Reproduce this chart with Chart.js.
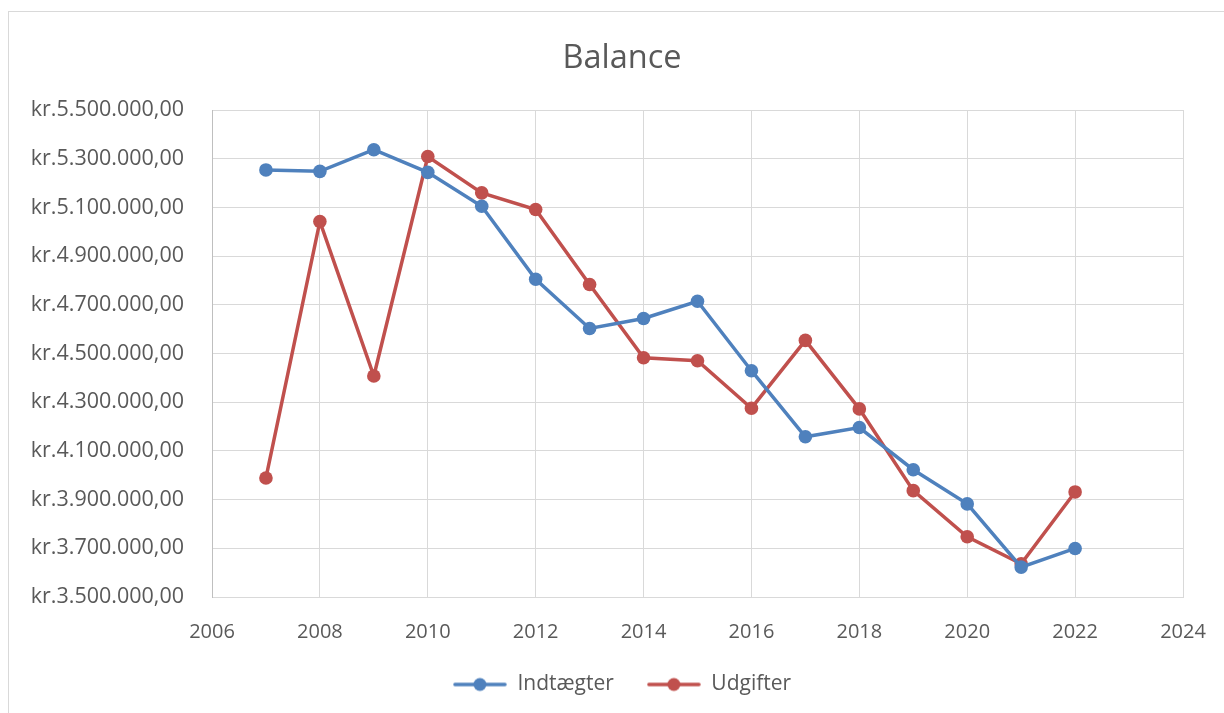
<!DOCTYPE html>
<html>
<head>
<meta charset="utf-8">
<script src="https://cdn.jsdelivr.net/npm/chart.js@4"></script>
<style>
  html, body { margin: 0; padding: 0; background: #fff; }
  #wrap { position: relative; width: 1224px; height: 713px; }
</style>
</head>
<body>
<div id="wrap"><canvas id="chart" width="1224" height="713"></canvas></div>
<script>
// Data
const years = [2007, 2008, 2009, 2010, 2011, 2012, 2013, 2014, 2015, 2016, 2017, 2018, 2019, 2020, 2021, 2022];
const indtaegter = [5253900, 5248100, 5337000, 5244000, 5104800, 4804800, 4602900, 4643900, 4714700, 4429300, 4157900, 4196000, 4022800, 3882400, 3622800, 3699400];
const udgifter = [3988800, 5042200, 4407600, 5309100, 5159700, 5091300, 4783100, 4482600, 4470300, 4275400, 4553800, 4272500, 3936800, 3747300, 3636700, 3931500];
const seriesNames = ['Indtægter', 'Udgifter'];
const seriesColors = ['#4f81bd', '#c0504d'];

const textColor = '#595959';
const gridColor = '#d9d9d9';

Chart.defaults.font.family = "'Open Sans', sans-serif";
Chart.defaults.color = textColor;

// kr.5.500.000,00
function formatKr(v) {
    const s = Math.round(v).toString().replace(/\B(?=(\d{3})+(?!\d))/g, '.');
    return 'kr.' + s + ',00';
}

// legend marker: line with a dot in the middle
function makeIcon(color) {
    const c = document.createElement('canvas');
    c.width = 54;
    c.height = 16;
    const g = c.getContext('2d');
    g.strokeStyle = color;
    g.lineWidth = 3.5;
    g.lineCap = 'round';
    g.beginPath();
    g.moveTo(2, 8);
    g.lineTo(52, 8);
    g.stroke();
    g.fillStyle = color;
    g.beginPath();
    g.arc(27, 8, 6.5, 0, Math.PI * 2);
    g.fill();
    return c;
}
const icons = seriesColors.map(makeIcon);

const outerBorder = {
    id: 'outerBorder',
    beforeDraw(chart) {
        const ctx = chart.ctx;
        ctx.save();
        ctx.strokeStyle = gridColor;
        ctx.lineWidth = 1;
        ctx.strokeRect(8.5, 11.5, 1300, 800);
        ctx.restore();
    }
};

function series(values) {
    return years.map((y, i) => ({ x: y, y: values[i] }));
}

new Chart(document.getElementById('chart'), {
    type: 'line',
    data: {
        datasets: [indtaegter, udgifter].map((vals, i) => ({
            label: seriesNames[i],
            data: series(vals),
            borderColor: seriesColors[i],
            backgroundColor: seriesColors[i],
            borderWidth: 3.5,
            pointRadius: 6.8,
            pointHoverRadius: 6.8,
            pointBorderWidth: 0,
            tension: 0
        }))
    },
    options: {
        responsive: false,
        animation: false,
        layout: { padding: { left: 20, right: 0, top: 0, bottom: 8 } },
        plugins: {
            title: {
                display: true,
                text: 'Balance',
                color: textColor,
                font: { size: 32.5, weight: 'normal' },
                padding: { top: 39, bottom: 32 }
            },
            legend: {
                position: 'bottom',
                labels: {
                    usePointStyle: true,
                    pointStyleWidth: 54,
                    padding: 33,
                    color: textColor,
                    font: { size: 21 },
                    generateLabels(chart) {
                        const items = Chart.defaults.plugins.legend.labels.generateLabels(chart);
                        items.forEach((it, i) => { it.pointStyle = icons[i]; });
                        return items;
                    }
                }
            },
            tooltip: { enabled: false }
        },
        scales: {
            x: {
                type: 'linear',
                min: 2006,
                max: 2024,
                ticks: {
                    stepSize: 2,
                    padding: 0,
                    color: textColor,
                    font: { size: 20 },
                    callback: v => String(v)
                },
                // invisible tick marks push the labels down without widening the side padding
                grid: { color: gridColor, lineWidth: 1, drawTicks: true, tickLength: 23, tickColor: 'rgba(0,0,0,0)' },
                border: { color: gridColor },
                afterFit(scale) { scale.height = 44; }
            },
            y: {
                min: 3500000,
                max: 5500000,
                ticks: {
                    stepSize: 200000,
                    padding: 28,
                    color: textColor,
                    font: { size: 21.5 },
                    callback: v => formatKr(v)
                },
                grid: { color: gridColor, lineWidth: 1, drawTicks: false },
                border: { color: '#bfbfbf' },
                afterFit(scale) { scale.width = 192; }
            },
            // empty right-hand strip so the plot stops where the reference does
            spacer: {
                type: 'linear',
                position: 'right',
                display: true,
                ticks: { display: false },
                grid: { display: false, drawTicks: false },
                border: { display: false },
                afterFit(scale) { scale.width = 41; }
            }
        }
    },
    plugins: [outerBorder]
});
</script>
</body>
</html>
